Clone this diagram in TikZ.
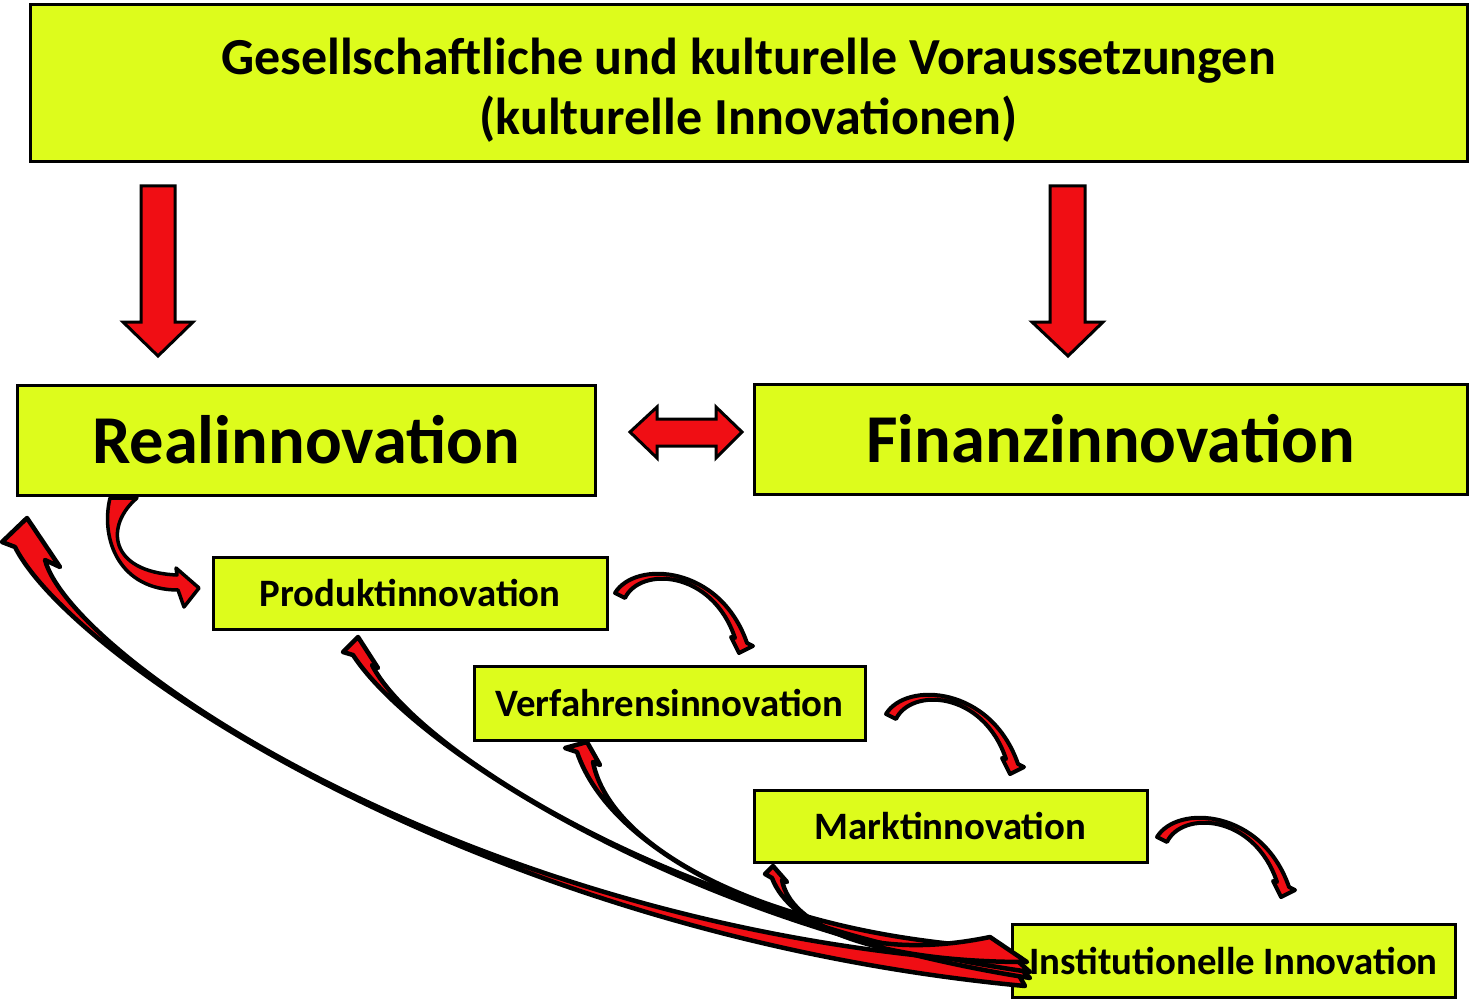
\documentclass[tikz,border=0pt]{standalone}
\usepackage{fontspec}
\setmainfont{Carlito}
\definecolor{boxfill}{RGB}{221,252,28}
\definecolor{arrowred}{RGB}{240,14,20}
\tikzset{
 box/.style={draw=black, line width=3pt, fill=boxfill, inner sep=0pt},
 blockarrow/.style={draw=black, line width=3pt, fill=arrowred, line join=miter},
 curvearrow/.style={draw=black, line width=3.5pt, fill=arrowred, line join=round},
 longarrow/.style={draw=black, line width=4.5pt, fill=arrowred, line join=round},
 arcarr/.pic={
   \draw[curvearrow, line width=4pt] (0,0) .. controls (20,-33) and (105,-28) .. (132,50) -- (138,53) -- (124,60) -- (116,44) -- (120,45) .. controls (97,-23.5) and (25,-26.5) .. (10,5) -- cycle;
 }
}
\begin{document}
\begin{tikzpicture}[x=1pt,y=-1pt]
\useasboundingbox (0,0) rectangle (1471,1000);
% boxes
\node[box, minimum width=1437pt, minimum height=157pt, align=center, font=\bfseries\fontsize{52}{60}\selectfont] (top) at (748.5,83.5) {\rule{0pt}{50pt}Gesellschaftliche und kulturelle Voraussetzungen\\(kulturelle Innovationen)};
\node[box, minimum width=578pt, minimum height=110pt, font=\bfseries\fontsize{68.5}{80}\selectfont] (real) at (306,440) {Realinnovation};
\node[box, minimum width=713pt, minimum height=110pt, font=\bfseries\fontsize{68.5}{80}\selectfont] (fin) at (1110.5,439) {Finanzinnovation};
\node[box, minimum width=394pt, minimum height=72pt, font=\bfseries\fontsize{38.8}{44}\selectfont] (prod) at (410,593) {Produktinnovation};
\node[box, minimum width=391pt, minimum height=74pt, font=\bfseries\fontsize{38.8}{44}\selectfont] (verf) at (669.5,703) {Verfahrensinnovation};
\node[box, minimum width=393pt, minimum height=72pt, font=\bfseries\fontsize{38.8}{44}\selectfont] (markt) at (950.5,826) {Marktinnovation};
\node[box, minimum width=443pt, minimum height=73pt, font=\bfseries\fontsize{38.8}{44}\selectfont] (inst) at (1233.5,960.5) {Institutionelle Innovation};
% straight block arrows
\draw[blockarrow] (141,186) -- (175,186) -- (175,322) -- (193,322) -- (158,356) -- (123,322) -- (141,322) -- cycle;
\draw[blockarrow] (1050,186) -- (1085,186) -- (1085,322) -- (1103,322) -- (1068,356) -- (1032,322) -- (1050,322) -- cycle;
\draw[blockarrow] (630,432) -- (657,407) -- (657,419) -- (716,419) -- (716,407) -- (742,432) -- (716,458) -- (716,446) -- (657,446) -- (657,458) -- cycle;
% Real -> Produkt
\draw[curvearrow] (137,498) .. controls (105,525) and (108,572) .. (177,575) -- (176,568) -- (199,588) -- (184,607) -- (178,590) .. controls (120,590) and (100,540) .. (110,498) -- cycle;
% arcs
\pic at (615,593) {arcarr};
\pic at (886,714) {arcarr};
\pic at (1157,837) {arcarr};
% long arrows from Institutionelle Innovation
\draw[longarrow] (45,560) .. controls (72,660) and (480,935) .. (1012,963) -- (1025,986) .. controls (480,935) and (72,660) .. (15,547) -- (2,542) -- (27,518) -- (60,567) -- cycle;
\draw[longarrow] (372,665) .. controls (415,750) and (690,925) .. (1008,956) -- (1030,978) .. controls (690,925) and (415,750) .. (353,655) -- (343,652) -- (358,637) -- (378,668) -- cycle;
\draw[longarrow] (593,762) .. controls (610,850) and (770,935) .. (1003,948) -- (1030,972) .. controls (770,935) and (610,850) .. (577,752) -- (565,748) -- (587,742) -- (600,765) -- cycle;
\draw[longarrow] (782,880) .. controls (790,925) and (870,962) .. (990,937) -- (1027,962) .. controls (870,962) and (790,925) .. (772,878) -- (765,874) -- (773,866) -- (787,882) -- cycle;
\end{tikzpicture}
\end{document}
